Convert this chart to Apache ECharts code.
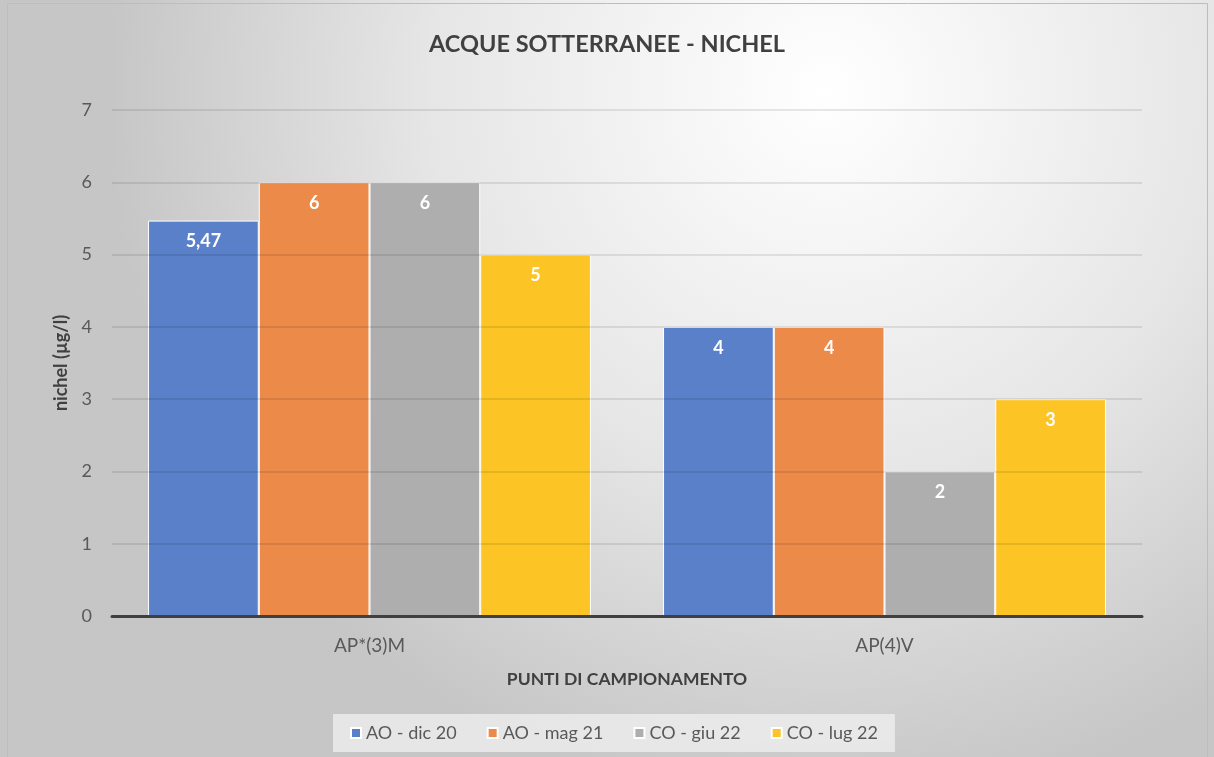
<!DOCTYPE html>
<html>
<head>
<meta charset="utf-8">
<script src="https://cdn.jsdelivr.net/npm/echarts@6/dist/echarts.min.js"></script>
<style>html,body{margin:0;padding:0;}#c{width:1214px;height:757px;}</style>
</head>
<body>
<div id="c"></div>
<script>
const categories = ['AP*(3)M', 'AP(4)V'];
const seriesNames = ['AO - dic 20', 'AO - mag 21', 'CO - giu 22', 'CO - lug 22'];
const aoDic20 = [5.47, 4];
const aoMag21 = [6, 4];
const coGiu22 = [6, 2];
const coLug22 = [5, 3];
const yTicks = [0, 1, 2, 3, 4, 5, 6, 7];
const colors = ['#5a80c9', '#ec8a4a', '#aeaeae', '#fcc424'];
const values = [aoDic20, aoMag21, coGiu22, coLug22];
const FONT = 'Lato, "Open Sans", sans-serif';

const chart = echarts.init(document.getElementById('c'));
chart.setOption({
  backgroundColor: {
    type: 'radial', x: 0.68, y: 0.12, r: 0.95,
    colorStops: [{offset: 0, color: '#ffffff'}, {offset: 0.55, color: '#e6e6e6'}, {offset: 1, color: '#c6c6c6'}]
  },
  graphic: [{
    type: 'rect', shape: {x: 7.5, y: 3.5, width: 1200, height: 760},
    style: {fill: 'none', stroke: '#bdbdbd', lineWidth: 1}, silent: true
  }],
  title: {
    text: 'ACQUE SOTTERRANEE - NICHEL', left: 'center', top: 27,
    textStyle: {fontFamily: FONT, fontSize: 23.5, fontWeight: 'bold', color: '#404040'}
  },
  legend: {
    data: seriesNames, bottom: 5, left: 333,
    itemWidth: 10, itemHeight: 10, itemGap: 30, icon: 'rect',
    backgroundColor: 'rgba(240,240,240,0.75)', padding: [10, 17, 10, 17],
    textStyle: {fontFamily: FONT, fontSize: 18, color: '#595959'}
  },
  grid: {left: 112, right: 72, top: 110, bottom: 141},
  xAxis: {
    type: 'category', data: categories,
    name: 'PUNTI DI CAMPIONAMENTO', nameLocation: 'middle', nameGap: 54,
    nameTextStyle: {fontFamily: FONT, fontSize: 17.5, fontWeight: 'bold', color: '#404040'},
    axisLine: {lineStyle: {color: '#404040', width: 3}},
    axisTick: {show: false},
    axisLabel: {fontFamily: FONT, fontSize: 19, color: '#595959', margin: 20},
    z: 3
  },
  yAxis: {
    type: 'value', min: yTicks[0], max: yTicks[yTicks.length - 1], interval: 1,
    name: 'nichel (µg/l)', nameLocation: 'middle', nameGap: 42,
    nameTextStyle: {fontFamily: FONT, fontSize: 18, fontWeight: 'bold', color: '#404040'},
    axisLine: {show: false}, axisTick: {show: false},
    axisLabel: {fontFamily: FONT, fontSize: 18, color: '#595959', margin: 20},
    splitLine: {lineStyle: {color: 'rgba(0,0,0,0.12)', width: 1.5}},
    z: 3
  },
  series: seriesNames.map((n, i) => ({
    name: n, type: 'bar', data: values[i],
    barGap: '0%', barCategoryGap: '14%',
    itemStyle: {color: colors[i], borderColor: '#ffffff', borderWidth: 1},
    label: {
      show: true, position: 'insideTop', distance: 12,
      fontFamily: FONT, fontSize: 18, fontWeight: 'bold', color: '#ffffff',
      formatter: p => String(p.value).replace('.', ',')
    }
  }))
});
</script>
</body>
</html>
